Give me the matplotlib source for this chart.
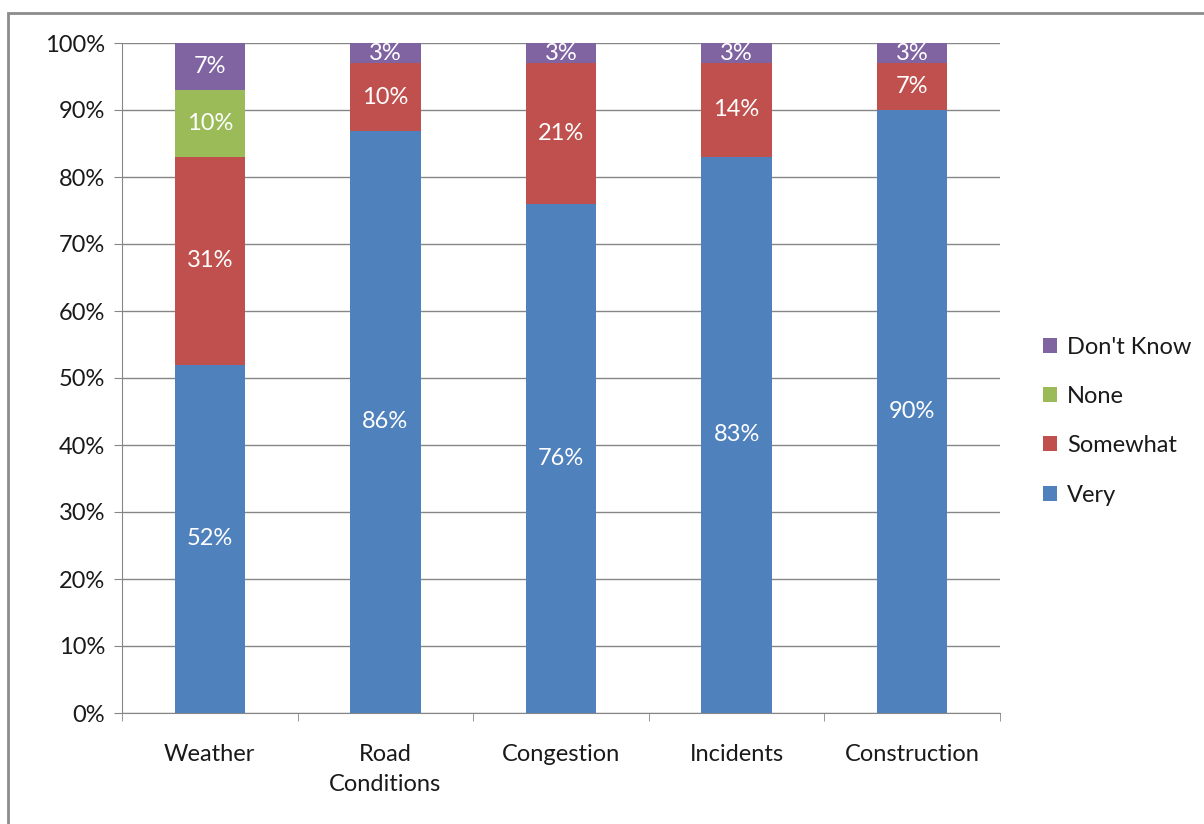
import matplotlib.pyplot as plt
from matplotlib.patches import Rectangle
from matplotlib.ticker import PercentFormatter, FixedLocator

plt.rcParams['font.family'] = ['Lato', 'DejaVu Sans']

categories = ['Weather', 'Road\nConditions', 'Congestion', 'Incidents', 'Construction']
very = [52, 86, 76, 83, 90]
somewhat = [31, 10, 21, 14, 7]
none = [10, 0, 0, 0, 0]
dont_know = [7, 3, 3, 3, 3]

series = [
    ('Very', very, '#4F81BD'),
    ('Somewhat', somewhat, '#C0504D'),
    ('None', none, '#9BBB59'),
    ("Don't Know", dont_know, '#8064A2'),
]

fig = plt.figure(figsize=(12.04, 8.24), dpi=100)
ax = fig.add_axes([122 / 1204, 1 - 713 / 824, 878 / 1204, 670 / 824])

# outer frame around the chart area
fig.patches.append(Rectangle((8 / 1204, -0.01), 1.02, 1 - 13 / 824 + 0.01,
                             transform=fig.transFigure, fill=False,
                             edgecolor='#8c8c8c', linewidth=2))

x = list(range(len(categories)))
totals = [sum(s[1][i] for s in series) for i in x]
bottom = [0.0] * len(x)
handles = []
for name, vals, color in series:
    share = [100.0 * v / t for v, t in zip(vals, totals)]
    bars = ax.bar(x, share, width=0.4, bottom=bottom, color=color,
                  label=name, zorder=3)
    handles.append(bars)
    for i, (v, s) in enumerate(zip(vals, share)):
        if v > 0:
            ax.text(i, bottom[i] + s / 2, f'{v}%', ha='center', va='center',
                    color='white', fontsize=17, zorder=4)
    bottom = [b + s for b, s in zip(bottom, share)]

ax.set_xlim(-0.5, len(categories) - 0.5)
ax.set_ylim(0, 100)
ax.yaxis.set_major_locator(FixedLocator(range(0, 101, 10)))
ax.yaxis.set_major_formatter(PercentFormatter(decimals=0))
ax.set_xticks(x)
ax.set_xticklabels(categories, fontsize=17, color='#1a1a1a', linespacing=1.55)
ax.xaxis.set_minor_locator(FixedLocator([i - 0.5 for i in range(len(categories) + 1)]))
ax.tick_params(axis='x', which='major', length=0, pad=22)
ax.tick_params(axis='x', which='minor', length=6, color='#868686')
ax.tick_params(axis='y', length=6, color='#868686', labelsize=17,
               labelcolor='#1a1a1a', pad=6)
ax.grid(axis='y', color='#868686', linewidth=1, zorder=0)
for side in ['top', 'right']:
    ax.spines[side].set_visible(False)
for side in ['left', 'bottom']:
    ax.spines[side].set_color('#868686')

leg = fig.legend(handles[::-1], [s[0] for s in series][::-1],
                 loc='center left', bbox_to_anchor=(1022 / 1204, 1 - 421 / 824),
                 frameon=False, fontsize=17, handlelength=0.6, handleheight=0.6,
                 handletextpad=0.4, labelspacing=1.2)
for t in leg.get_texts():
    t.set_color('#1a1a1a')

fig.savefig('out.png', dpi=100)
